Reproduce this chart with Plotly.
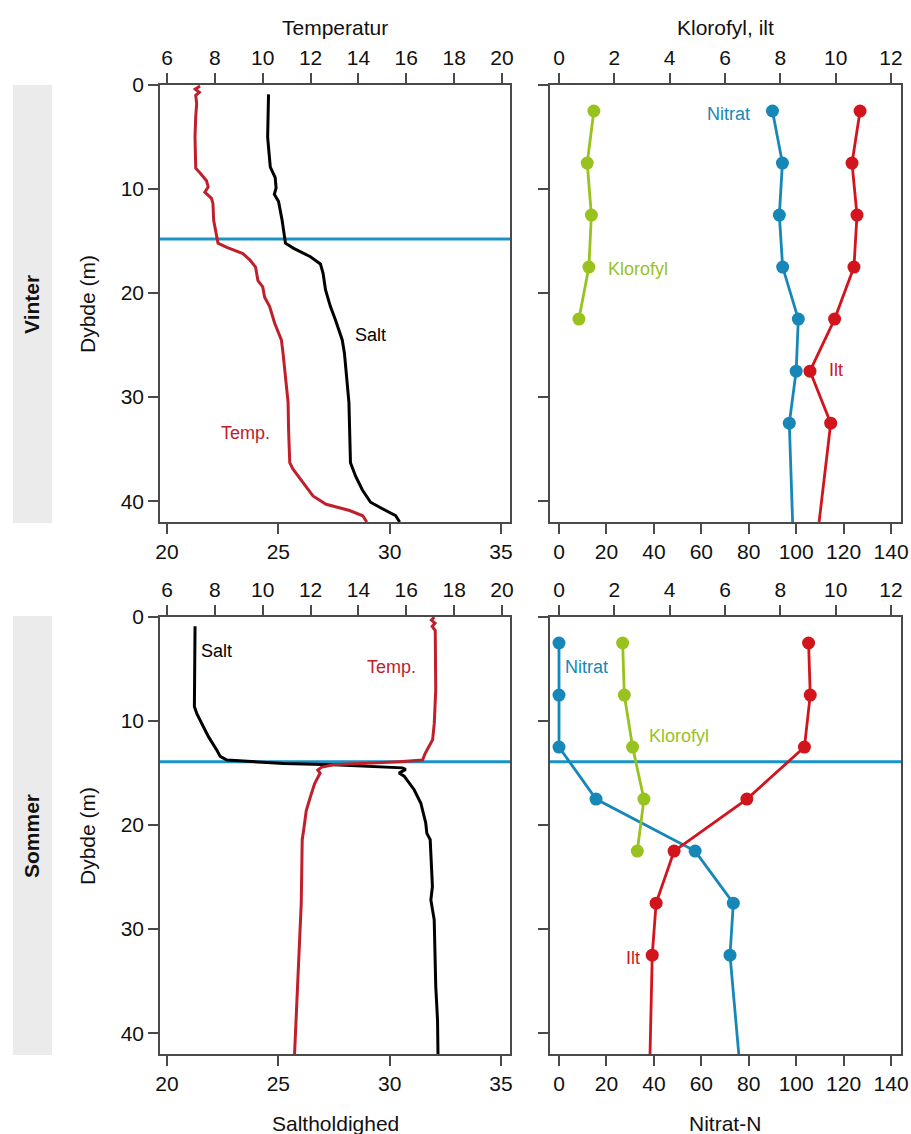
import plotly.graph_objects as go

# ---------------- DATA ----------------
# Winter CTD profiles
w_temp_depth = [0.1, 0.4, 0.7, 1.0, 1.8, 3, 5, 8.0, 8.5, 9.2, 9.8, 10.3, 10.9, 11.4, 13, 14.4, 15.2, 15.6,
                16.2, 16.8, 17.5, 18.8, 19.4, 20.4, 21.3, 22.9, 24.5, 25.8, 28.3, 30.5, 33.1, 36.3, 36.9,
                38.2, 39.5, 40.3, 40.9, 41.4, 42]
w_temp = [7.38, 7.18, 7.35, 7.2, 7.24, 7.2, 7.17, 7.2, 7.4, 7.65, 7.72, 7.58, 7.86, 7.92, 7.95, 8.05, 8.13, 8.5,
          9.17, 9.46, 9.7, 9.8, 10.0, 10.08, 10.29, 10.5, 10.78, 10.85, 10.96, 11.06, 11.08, 11.13, 11.26,
          11.68, 12.1, 12.65, 13.63, 14.18, 14.35]
w_salt_depth = [0.9, 5, 6, 7.9, 8.9, 9.9, 10.5, 11.2, 13, 15.2, 15.7, 16.5, 17.2, 18.1, 19.7, 21.3, 22.6, 24.5,
                25.8, 28.3, 30.5, 36.3, 37.6, 38.9, 40.1, 40.8, 41.4, 42]
w_salt = [24.56, 24.52, 24.56, 24.64, 24.86, 24.9, 24.82, 25.01, 25.17, 25.32, 25.69, 26.44, 26.89, 27.01, 27.12,
          27.34, 27.57, 27.87, 27.97, 28.09, 28.17, 28.24, 28.47, 28.77, 29.14, 29.74, 30.27, 30.45]

# Summer CTD profiles
s_temp_depth = [0.0, 0.3, 0.6, 0.9, 1.3, 7.0, 10.2, 11.8, 13.1, 13.75, 13.9, 14.07, 14.2, 14.45, 14.7, 15.0,
                16.0, 17.3, 18.6, 20.5, 21.4, 27.5, 32.3, 37.1, 40.4, 42]
s_temp = [17.17, 17.05, 17.2, 17.08, 17.21, 17.23, 17.17, 17.1, 16.79, 16.68, 15.71, 14.32, 12.93, 12.45, 12.3,
          12.4, 12.17, 11.99, 11.82, 11.71, 11.65, 11.61, 11.51, 11.43, 11.35, 11.33]
s_salt_depth = [0.9, 8.6, 9.3, 10.2, 11.5, 12.8, 13.4, 13.75, 13.9, 14.07, 14.2, 14.45, 14.5, 14.65, 15.0, 15.3,
                16.6, 17.9, 19.8, 20.8, 21.4, 25.9, 27.2, 29.1, 32.3, 35.5, 38.75, 42]
s_salt = [21.26, 21.23, 21.34, 21.56, 21.86, 22.24, 22.39, 22.69, 23.74, 25.24, 27.49, 29.74, 30.57, 30.72, 30.42,
          30.65, 31.1, 31.4, 31.62, 31.67, 31.82, 31.92, 31.85, 32.0, 32.04, 32.07, 32.15, 32.17]

# Water samples
sample_depth = [2.5, 7.5, 12.5, 17.5, 22.5, 27.5, 32.5]
chl_depth = [2.5, 7.5, 12.5, 17.5, 22.5]
bottom_depth = 42

w_klorofyl = [1.26, 1.02, 1.17, 1.08, 0.72]
w_nitrat = [90.0, 94.2, 92.9, 94.3, 100.9, 100.0, 97.1]
w_nitrat_bottom = 98.5
w_ilt = [10.88, 10.59, 10.77, 10.66, 9.96, 9.07, 9.82]
w_ilt_bottom = 9.40

s_klorofyl = [2.30, 2.36, 2.66, 3.07, 2.83]
s_nitrat = [0, 0, 0, 15.6, 57.4, 73.5, 72.1]
s_nitrat_bottom = 75.8
s_ilt = [9.02, 9.08, 8.87, 6.79, 4.16, 3.51, 3.37]
s_ilt_bottom = 3.29

# Springlag (pycnocline) depths
w_springlag = 14.8
s_springlag = 13.9

# Axis ticks
temp_ticks = [6, 8, 10, 12, 14, 16, 18, 20]
salt_ticks = [20, 25, 30, 35]
kl_ticks = [0, 2, 4, 6, 8, 10, 12]
nit_ticks = [0, 20, 40, 60, 80, 100, 120, 140]
depth_ticks = [0, 10, 20, 30, 40]

# ---------------- STYLE ----------------
FONT = "Liberation Sans, Arial, sans-serif"
FS = 21
LAB = 18
C_TEMP = "#c0202b"
C_SALT = "#000000"
C_BLUE = "#1787b8"
C_GREEN = "#98c21e"
C_ILT = "#d2141c"
C_LINE = "#1a93c6"
AX = "#4a4a4a"

W, H = 911, 1134
def dx(a, b):
    return [a / W, b / W]
def dy(top, bot):
    return [1 - bot / H, 1 - top / H]

L_DOM, R_DOM = dx(160, 510), dx(550, 901)
TOP_DOM, BOT_DOM = dy(85, 522), dy(617, 1054)

fig = go.Figure()

def profile(x, y, color, xa, ya):
    fig.add_trace(go.Scatter(x=x, y=y, mode="lines", line=dict(color=color, width=3),
                             xaxis=xa, yaxis=ya, showlegend=False, hoverinfo="skip"))

def samples(vals, depths, bottom_val, color, xa, ya):
    xs = list(vals) + ([bottom_val] if bottom_val is not None else [])
    ys = list(depths) + ([bottom_depth] if bottom_val is not None else [])
    sizes = [13] * len(vals) + ([0] if bottom_val is not None else [])
    fig.add_trace(go.Scatter(x=xs, y=ys, mode="lines+markers",
                             line=dict(color=color, width=2.8),
                             marker=dict(color=color, size=sizes, opacity=1, line=dict(width=0)),
                             xaxis=xa, yaxis=ya, showlegend=False, hoverinfo="skip"))

# Winter
profile(w_salt, w_salt_depth, C_SALT, "x", "y")
profile(w_temp, w_temp_depth, C_TEMP, "x2", "y")
samples(w_klorofyl, chl_depth, None, C_GREEN, "x4", "y2")
samples(w_nitrat, sample_depth, w_nitrat_bottom, C_BLUE, "x3", "y2")
samples(w_ilt, sample_depth, w_ilt_bottom, C_ILT, "x4", "y2")
# Summer
profile(s_salt, s_salt_depth, C_SALT, "x5", "y3")
profile(s_temp, s_temp_depth, C_TEMP, "x6", "y3")
samples(s_klorofyl, chl_depth, None, C_GREEN, "x8", "y4")
samples(s_nitrat, sample_depth, s_nitrat_bottom, C_BLUE, "x7", "y4")
samples(s_ilt, sample_depth, s_ilt_bottom, C_ILT, "x8", "y4")

common = dict(showgrid=False, zeroline=False, showline=True, linecolor=AX, linewidth=1.5,
              ticks="outside", ticklen=10, tickwidth=1.5, tickcolor=AX, automargin=False,
              tickfont=dict(family=FONT, size=FS, color="#111"))

def xb(domain, anchor, rng, ticks):
    return dict(common, domain=domain, anchor=anchor, side="bottom", range=rng, tickvals=ticks)
def xt(over, anchor, rng, ticks):
    return dict(common, overlaying=over, anchor=anchor, side="top", range=rng, tickvals=ticks)
def ya(domain, anchor, labels):
    return dict(common, domain=domain, anchor=anchor, range=[42, 0], tickvals=depth_ticks,
                mirror=True, showticklabels=labels)

S_RNG, T_RNG = [19.686, 35.404], [5.707, 20.334]
N_RNG, K_RNG = [-3.8, 144.2], [-0.325, 12.36]

fig.update_layout(
    template="none",
    width=W, height=H, margin=dict(l=0, r=0, t=0, b=0, autoexpand=False),
    paper_bgcolor="white", plot_bgcolor="white",
    font=dict(family=FONT, size=FS, color="#111"),
    xaxis=xb(L_DOM, "y", S_RNG, salt_ticks),
    xaxis2=xt("x", "y", T_RNG, temp_ticks),
    xaxis3=xb(R_DOM, "y2", N_RNG, nit_ticks),
    xaxis4=xt("x3", "y2", K_RNG, kl_ticks),
    xaxis5=xb(L_DOM, "y3", S_RNG, salt_ticks),
    xaxis6=xt("x5", "y3", T_RNG, temp_ticks),
    xaxis7=xb(R_DOM, "y4", N_RNG, nit_ticks),
    xaxis8=xt("x7", "y4", K_RNG, kl_ticks),
    yaxis=ya(TOP_DOM, "x", True),
    yaxis2=ya(TOP_DOM, "x3", False),
    yaxis3=ya(BOT_DOM, "x5", True),
    yaxis4=ya(BOT_DOM, "x7", False),
)

# Springlag lines
for xr, yr, d in [("x", "y", w_springlag), ("x5", "y3", s_springlag), ("x7", "y4", s_springlag)]:
    fig.add_shape(type="line", xref=f"{xr} domain", yref=yr, x0=0, x1=1, y0=d, y1=d,
                  line=dict(color=C_LINE, width=3), layer="below")

# Season bands
for top, bot in [(85, 523), (616, 1055)]:
    fig.add_shape(type="rect", xref="paper", yref="paper", x0=13 / W, x1=52 / W,
                  y0=1 - bot / H, y1=1 - top / H, fillcolor="#ebebeb", line=dict(width=0), layer="below")

def pa(text, x, y, angle=0, bold=False, size=FS):
    fig.add_annotation(text=f"<b>{text}</b>" if bold else text, xref="paper", yref="paper",
                       x=x / W, y=1 - y / H, showarrow=False, textangle=angle,
                       font=dict(family=FONT, size=size, color="#111"), xanchor="center", yanchor="middle")

pa("Temperatur", 335, 27)
pa("Klorofyl, ilt", 725, 27)
pa("Saltholdighed", 335, 1123)
pa("Nitrat-N", 725, 1123)
pa("Dybde (m)", 87, 304, angle=-90)
pa("Dybde (m)", 87, 836, angle=-90)
pa("Vinter", 31, 304, angle=-90, bold=True)
pa("Sommer", 31, 836, angle=-90, bold=True)

def lab(text, x, y, xr, yr, color):
    fig.add_annotation(text=text, x=x, y=y, xref=xr, yref=yr, showarrow=False,
                       font=dict(family=FONT, size=LAB, color=color), xanchor="center", yanchor="middle")

lab("Salt", 29.12, 24.0, "x", "y", C_SALT)
lab("Temp.", 9.28, 33.4, "x2", "y", C_TEMP)
lab("Nitrat", 71.3, 2.8, "x3", "y2", C_BLUE)
lab("Klorofyl", 2.87, 17.7, "x4", "y2", C_GREEN)
lab("Ilt", 117, 27.4, "x3", "y2", C_ILT)
lab("Salt", 22.24, 3.3, "x5", "y3", C_SALT)
lab("Temp.", 15.4, 4.8, "x6", "y3", C_TEMP)
lab("Nitrat", 11.7, 4.8, "x7", "y4", C_BLUE)
lab("Klorofyl", 4.34, 11.4, "x8", "y4", C_GREEN)
lab("Ilt", 31.4, 32.8, "x7", "y4", C_ILT)

fig.write_html("out.html", config={"displayModeBar": False},
               post_script="document.body.style.margin='0px';document.body.style.overflow='hidden';")
